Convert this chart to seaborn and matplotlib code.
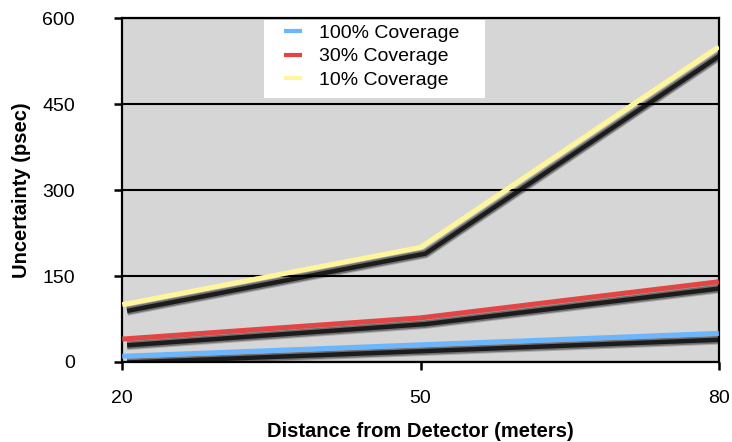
import seaborn as sns
import matplotlib.pyplot as plt
import matplotlib.patheffects as pe
from matplotlib.patches import Rectangle
import pandas as pd

distance = [20, 50, 80]
cov100 = [10, 30, 50]
cov30 = [40, 77, 140]
cov10 = [100, 200, 550]
names = ['100% Coverage', '30% Coverage', '10% Coverage']
colors = ['#6cb6ff', '#e34444', '#fff59a']

df = pd.DataFrame({
    'distance': distance * 3,
    'value': cov100 + cov30 + cov10,
    'series': [names[0]] * 3 + [names[1]] * 3 + [names[2]] * 3,
})

sns.set_style('ticks')
plt.rcParams['font.family'] = ['Liberation Sans', 'DejaVu Sans']

fig, ax = plt.subplots(figsize=(7.32, 4.42), dpi=100)
ax.set_facecolor('#d6d6d6')

sns.lineplot(data=df, x='distance', y='value', hue='series', hue_order=names,
             palette=colors, linewidth=3.6, ax=ax, zorder=3)

# soft drop shadow, a few stacked strokes to fake the blur
shadow = [pe.SimpleLineShadow(offset=(3.5, -4.5), shadow_color='black', alpha=0.2, linewidth=7),
          pe.SimpleLineShadow(offset=(3.5, -4.5), shadow_color='black', alpha=0.35, linewidth=5.5),
          pe.SimpleLineShadow(offset=(3.5, -4.5), shadow_color='black', alpha=0.75, linewidth=3.2),
          pe.Normal()]
for ln in ax.get_lines():
    ln.set_path_effects(shadow)
    ln.set_solid_capstyle('butt')

ax.set_xlim(20, 80)
ax.set_ylim(0, 600)
ax.set_xticks([20, 50, 80])
ax.set_yticks([0, 150, 300, 450, 600])
ax.yaxis.grid(True, color='black', linewidth=1.5)
ax.set_axisbelow('line')
for s in ax.spines.values():
    s.set_linewidth(1.6)
    s.set_color('black')
ax.tick_params(axis='both', direction='out', length=6, width=1.8, color='black',
               labelsize=14, labelcolor='black')
ax.tick_params(axis='y', pad=28)
ax.tick_params(axis='x', pad=14)

ax.set_xlabel('Distance from Detector (meters)', fontsize=14.5, fontweight='bold',
              labelpad=11, color='black')
ax.set_ylabel('Uncertainty (psec)', fontsize=14.5, fontweight='bold', labelpad=8,
              color='black')

# white legend panel
ax.add_patch(Rectangle((0.238, 0.767), 0.370, 0.227, transform=ax.transAxes,
                       facecolor='white', edgecolor='none', zorder=4))
leg = ax.legend(loc='upper left', bbox_to_anchor=(0.271, 0.982), fontsize=14,
                frameon=False, handlelength=0.95, borderpad=0, labelspacing=0.3,
                handletextpad=0.85, borderaxespad=0)
leg.set_zorder(5)
for h in leg.get_lines():
    h.set_linewidth(3)
    h.set_path_effects([])
for tx in leg.get_texts():
    tx.set_color('black')

plt.subplots_adjust(left=0.167, right=0.982, top=0.959, bottom=0.181)
plt.savefig('out.png', dpi=100)
